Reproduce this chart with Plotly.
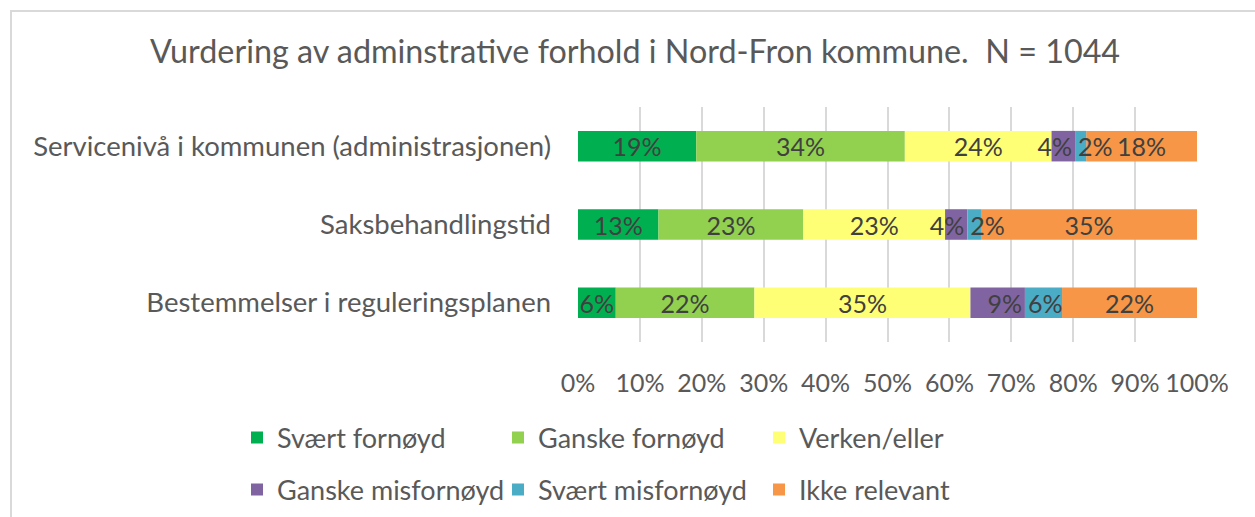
import plotly.graph_objects as go

categories = [
    "Servicenivå i kommunen (administrasjonen)",
    "Saksbehandlingstid",
    "Bestemmelser i reguleringsplanen",
]
series_names = [
    "Svært fornøyd",
    "Ganske fornøyd",
    "Verken/eller",
    "Ganske misfornøyd",
    "Svært misfornøyd",
    "Ikke relevant",
]
svaert_fornoyd = [19.1, 13.0, 6.1]
ganske_fornoyd = [33.7, 23.4, 22.4]
verken_eller = [23.7, 22.9, 34.9]
ganske_misfornoyd = [3.8, 3.6, 8.8]
svaert_misfornoyd = [1.8, 2.2, 6.0]
ikke_relevant = [17.9, 34.9, 21.8]
tick_values = [0, 10, 20, 30, 40, 50, 60, 70, 80, 90, 100]
tick_labels = ["0%", "10%", "20%", "30%", "40%", "50%", "60%", "70%", "80%", "90%", "100%"]

series_values = [svaert_fornoyd, ganske_fornoyd, verken_eller,
                 ganske_misfornoyd, svaert_misfornoyd, ikke_relevant]
colors = ["#00b050", "#92d050", "#ffff75", "#8064a2", "#4bacc6", "#f79646"]
label_anchor = ["middle", "middle", "middle", "end", "start", "middle"]
# drawing order so that labels of narrow segments stay on top
draw_order = [0, 1, 2, 5, 3, 4]

FONT = "Lato"
W, H = 1255, 517
ML, MR, MT, MB = 578, 58, 107, 175
PW, PH = W - ML - MR, H - MT - MB

def px_x(p):
    return (p - ML) / PW

def px_y(p):
    return (H - MB - p) / PH

# stacked bases from the data
bases = []
running = [0.0] * len(categories)
for vals in series_values:
    bases.append(list(running))
    running = [r + v for r, v in zip(running, vals)]

fig = go.Figure()
for i in draw_order:
    fig.add_trace(go.Bar(
        y=categories, x=series_values[i], base=bases[i],
        name=series_names[i], orientation="h",
        marker=dict(color=colors[i], line=dict(width=0)),
        texttemplate="%{x:.0f}%", textposition="inside",
        insidetextanchor=label_anchor[i], textangle=0,
        textfont=dict(family=FONT, size=25, color="#404040"),
        width=0.39,
        legendrank=i + 1,
        legend="legend" if i < 3 else "legend2",
    ))

fig.update_layout(
    width=W, height=H,
    barmode="overlay",
    margin=dict(l=ML, r=MR, t=MT, b=MB, autoexpand=False),
    paper_bgcolor="white", plot_bgcolor="white",
    font=dict(family=FONT, color="#595959"),
    uniformtext=dict(minsize=25, mode="show"),
    title=dict(text="Vurdering av adminstrative forhold i Nord-Fron kommune.  N = 1044",
               x=635 / W, xanchor="center", y=1 - 52 / H, yanchor="middle",
               font=dict(family=FONT, size=32.3, color="#595959")),
    xaxis=dict(range=[0, 100], tickvals=tick_values, ticktext=tick_labels,
               showgrid=True, gridcolor="#d9d9d9", gridwidth=2,
               zeroline=False, showline=False,
               tickfont=dict(family=FONT, size=25, color="#595959"),
               ticks="", ticklabelstandoff=24, fixedrange=True),
    yaxis=dict(autorange="reversed", showgrid=False, zeroline=False,
               tickfont=dict(family=FONT, size=27.5, color="#595959"),
               ticks="", ticklabelstandoff=26, fixedrange=True),
    legend=dict(orientation="h", x=px_x(237), xanchor="left", y=px_y(438), yanchor="middle",
                font=dict(family=FONT, size=27, color="#595959"),
                entrywidth=216, itemwidth=30, traceorder="normal",
                bgcolor="rgba(0,0,0,0)"),
    legend2=dict(orientation="h", x=px_x(237), xanchor="left", y=px_y(490), yanchor="middle",
                 font=dict(family=FONT, size=27, color="#595959"),
                 entrywidth=216, itemwidth=30, traceorder="normal",
                 bgcolor="rgba(0,0,0,0)"),
    shapes=[
        dict(type="line", xref="paper", yref="paper",
             x0=px_x(11), x1=px_x(11), y0=px_y(10), y1=px_y(530),
             line=dict(color="#d9d9d9", width=2)),
        dict(type="line", xref="paper", yref="paper",
             x0=px_x(10), x1=px_x(1265), y0=px_y(11), y1=px_y(11),
             line=dict(color="#d9d9d9", width=2)),
    ],
)

fig.write_html("out.html", config={"displayModeBar": False},
               post_script="document.body.style.margin='0';")
